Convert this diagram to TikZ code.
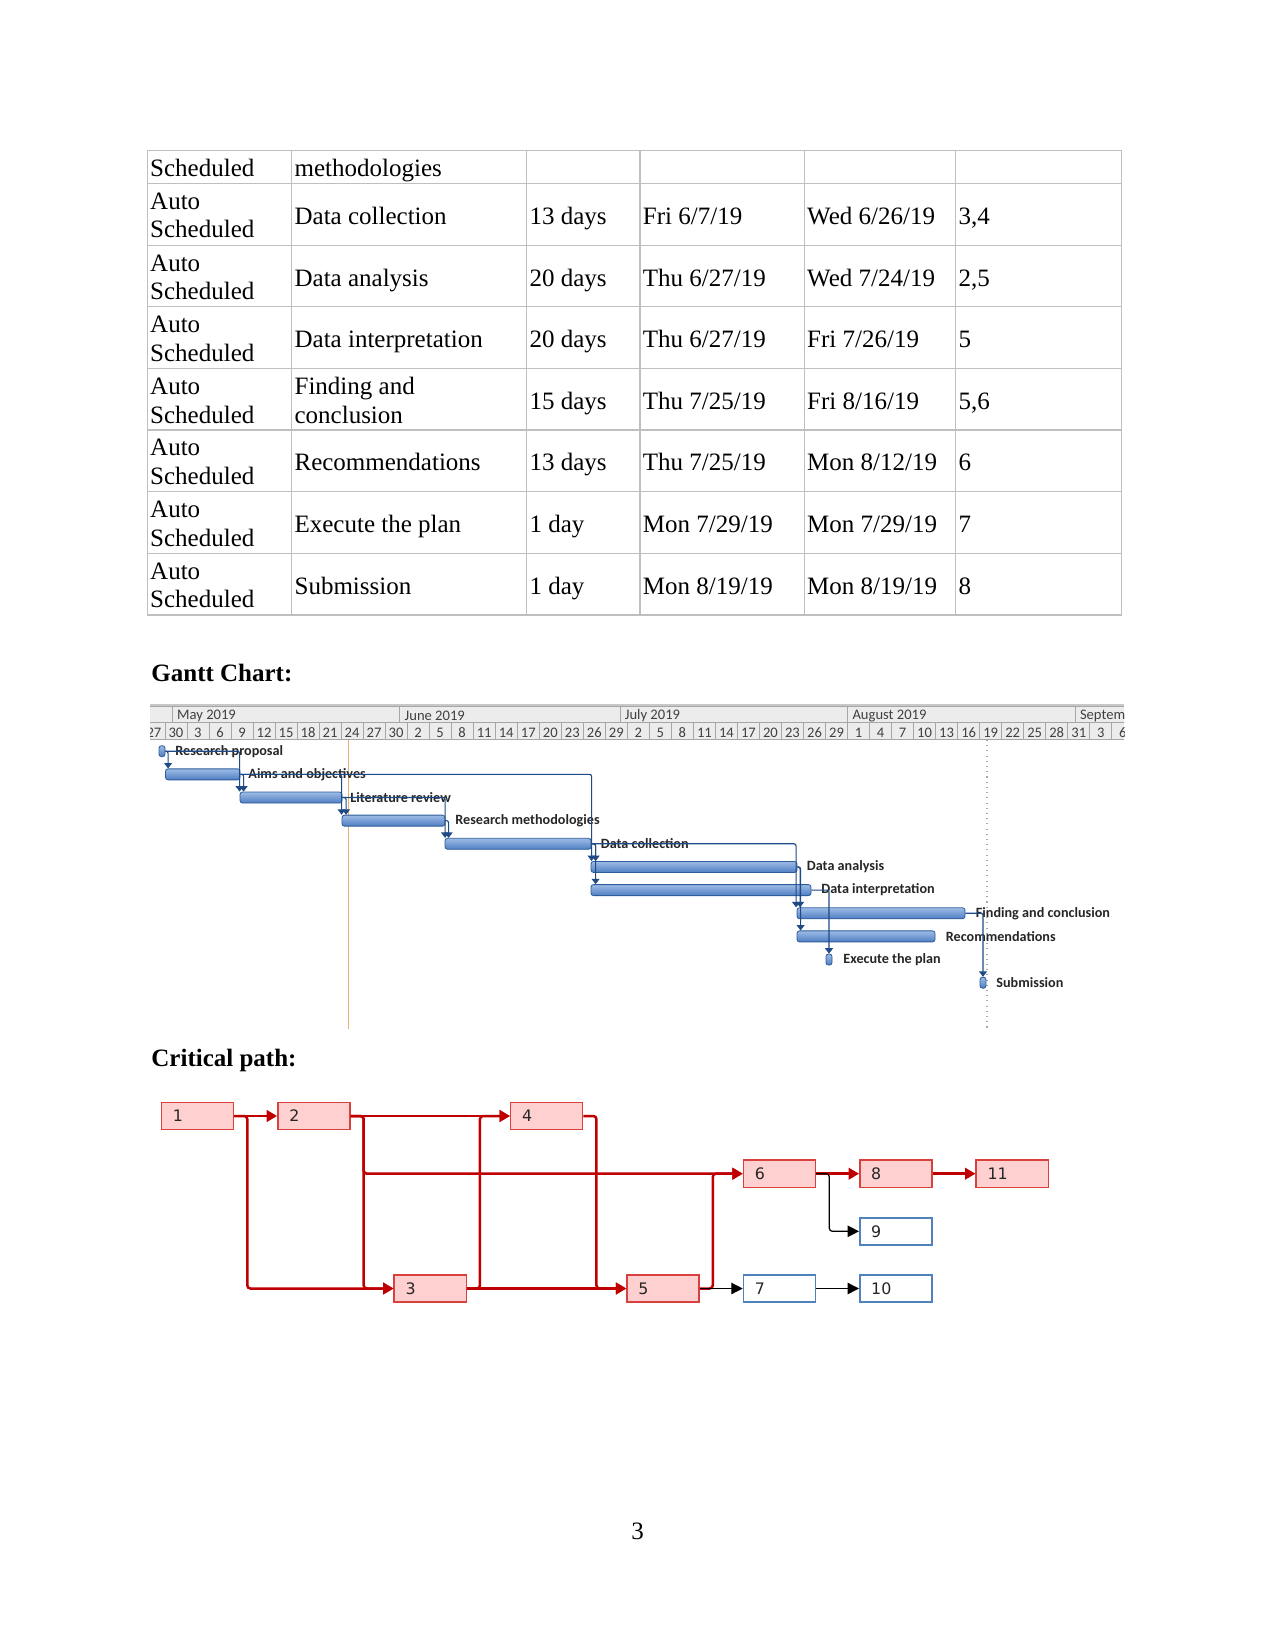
\documentclass[tikz,border=0pt]{standalone}
\usepackage{fontspec}
\setmainfont{Liberation Serif}
\newfontfamily\ganttfont{Carlito}
\newfontfamily\netfont{DejaVu Sans}
\usepackage{xcolor}
\usetikzlibrary{arrows.meta, positioning, fit, calc}
\definecolor{gridgray}{HTML}{BFBFBF}
\definecolor{hdrfill}{HTML}{ECECEC}
\definecolor{hdrline}{HTML}{A6A6A6}
\definecolor{hdrtop}{HTML}{C8C8C8}
\definecolor{hdrtext}{HTML}{404040}
\definecolor{barlt}{HTML}{9DBCE6}
\definecolor{bardk}{HTML}{4F7EC2}
\definecolor{barbd}{HTML}{2F5C9A}
\definecolor{linkblue}{HTML}{1F4A85}
\definecolor{todayor}{HTML}{E8B070}
\definecolor{critred}{HTML}{C00000}
\definecolor{critfill}{HTML}{FFD0D0}
\definecolor{critbd}{HTML}{D9403E}
\definecolor{normbd}{HTML}{4F81BD}
\definecolor{nettext}{HTML}{262626}
\tikzset{
  tabline/.style={draw=gridgray, line width=0.5pt},
  cell/.style={anchor=base west, inner sep=0pt, font=\fontsize{12}{14}\selectfont},
  heading/.style={cell, font=\fontsize{12}{14}\selectfont\bfseries},
  hdrcell/.style={draw=hdrline, fill=hdrfill, line width=0.4pt},
  hdrtxt/.style={inner sep=0pt, font=\ganttfont\fontsize{7}{8}\selectfont, text=hdrtext},
  gbar/.style={inner sep=0pt, draw=barbd, line width=0.4pt, top color=barlt, bottom color=bardk, rounded corners=1.2pt},
  glabel/.style={anchor=west, inner sep=0pt, font=\ganttfont\bfseries\fontsize{6.8}{8}\selectfont, text=black!85},
  glink/.style={draw=linkblue, line width=0.55pt, rounded corners=1pt, -{Triangle[length=2.6pt,width=3.8pt]}},
  crit/.style={draw=critbd, fill=critfill, line width=0.7pt, minimum width=34.6pt, minimum height=13pt,
    text width=23.6pt, inner xsep=5.5pt, inner ysep=0pt, align=left, font=\netfont\fontsize{7.6}{8}\selectfont, text=nettext},
  norm/.style={crit, draw=normbd, fill=white},
  critflow/.style={draw=critred, line width=1.2pt, rounded corners=1.5pt, -{Triangle[length=5pt,width=5.5pt]}},
  normflow/.style={draw=black, line width=0.6pt, rounded corners=1.5pt, -{Triangle[length=5.5pt,width=5.5pt]}}
}
\begin{document}
\begin{tikzpicture}[x=0.48pt, y=-0.48pt]
\useasboundingbox[fill=white] (0,0) rectangle (1275,1650);
% task table
\foreach \yy in {150.7,183.3,245.3,306.7,368.7,430,491.7,553.3,615}
  \draw[tabline] (147.3,\yy) -- (1121.7,\yy);
\foreach \xx in {147.3,291.7,526.7,640,804.3,955.7,1121.7}
  \draw[tabline] (\xx,150.7) -- (\xx,615);
\node[cell] (sched0) at (149.8,177) {Scheduled};
\node[cell] (task0) at (294.2,177) {methodologies};
\foreach \i/\top/\dur/\st/\fn/\pr in {1/183.3/13 days/{Fri 6/7/19}/{Wed 6/26/19}/{3,4},
    2/245.3/20 days/{Thu 6/27/19}/{Wed 7/24/19}/{2,5}, 3/306.7/20 days/{Thu 6/27/19}/{Fri 7/26/19}/5,
    4/368.7/15 days/{Thu 7/25/19}/{Fri 8/16/19}/{5,6}, 5/430/13 days/{Thu 7/25/19}/{Mon 8/12/19}/6,
    6/491.7/1 day/{Mon 7/29/19}/{Mon 7/29/19}/7, 7/553.3/1 day/{Mon 8/19/19}/{Mon 8/19/19}/8} {
  \node[cell] (auto\i) at (149.8,\top+26) {Auto};
  \node[cell] (sched\i) at (149.8,\top+54.6) {Scheduled};
  \node[cell] (dur\i) at (529.2,\top+40.8) {\dur};
  \node[cell] (start\i) at (642.5,\top+40.8) {\st};
  \node[cell] (fin\i) at (806.8,\top+40.8) {\fn};
  \node[cell] (pred\i) at (958.2,\top+40.8) {\pr};
}
\node[cell] (task1) at (294.2,224.1) {Data collection};
\node[cell] (task2) at (294.2,286.1) {Data analysis};
\node[cell] (task3) at (294.2,347.5) {Data interpretation};
\node[cell] (task4a) at (294.2,394.7) {Finding and};
\node[cell] (task4b) at (294.2,423.3) {conclusion};
\node[cell] (task5) at (294.2,470.8) {Recommendations};
\node[cell] (task6) at (294.2,532.5) {Execute the plan};
\node[cell] (task7) at (294.2,594.1) {Submission};

% gantt chart
\node[heading] (gtitle) at (151,681.7) {Gantt Chart:};
\begin{scope}
  \clip (150,703.5) rectangle (1124,739.5);
  \fill[hdrtop] (150,703.5) rectangle (1124,706.5);
  \draw[hdrcell] (100,706.5) rectangle (1200,722.5);
  \fill[hdrfill] (150,722.5) rectangle (1124,739.5);
  \foreach \mx/\mname/\mtxt in {172.3/may/May 2019, 399.8/jun/June 2019, 620/jul/July 2019,
      847.6/aug/August 2019, 1075.1/sep/September 2019} {
    \draw[hdrline, line width=0.4pt] (\mx,706.5) -- (\mx,722.5);
    \node[hdrtxt, anchor=west] (m\mname) at (\mx+4.5,716) {\mtxt};
  }
  \foreach \lab [count=\k from 0] in {27,30,3,6,9,12,15,18,21,24,27,30,2,5,8,11,14,17,20,23,26,29,
      2,5,8,11,14,17,20,23,26,29,1,4,7,10,13,16,19,22,25,28,31,3,6} {
    \draw[hdrline, line width=0.4pt] ({142.9+22.02*\k},722.5) -- ++(0,17);
    \node[hdrtxt] (day\k) at ({153.9+22.02*\k},732.6) {\lab};
  }
  \draw[hdrline, line width=0.4pt] (150,739.2) -- (1124,739.2);
\end{scope}
\draw[todayor, line width=0.5pt] (348.3,740) -- (348.3,1029);
\draw[gray!70, dotted, line width=0.5pt] (987,740) -- (987,1029);
\foreach \n/\xa/\xb/\ry in {1/159/165/751.2, 2/165.5/240/774.35, 3/240/342/797.5, 4/342/445/820.65,
    5/445/591/843.8, 6/591/797/866.95, 7/591/811/890.1, 8/797/965/913.25, 9/797/935/936.4,
    10/826/832/959.55, 11/980/986/982.7}
  \node[gbar, fit={(\xa,\ry-5.5) (\xb,\ry+5.5)}] (g\n) {};
\foreach \n/\lx/\ry/\txt in {1/175/751.2/Research proposal, 2/248/774.35/Aims and objectives,
    3/350/797.5/Literature review, 4/455/820.65/Research methodologies, 5/600.5/843.8/Data collection,
    6/806.5/866.95/Data analysis, 7/821/890.1/Data interpretation, 8/975.5/913.25/Finding and conclusion,
    9/945.5/936.4/Recommendations, 10/843/959.55/Execute the plan, 11/996/982.7/Submission}
  \node[glabel] (l\n) at (\lx,\ry) {\txt};
\draw[glink] (g1.east) -| ($(g2.north west)+(3,0)$);
\draw[glink] (g1.east) -| (g3.north west);
\draw[glink] (g2.east) -| ($(g3.north west)+(4,0)$);
\draw[glink] (g2.east) -| (g4.north west);
\draw[glink] (g2.east) -| ($(g6.north west)+(1,0)$);
\draw[glink] (g3.east) -| ($(g4.north west)+(4.5,0)$);
\draw[glink] (g3.east) -| ($(g5.north west)+(0.5,0)$);
\draw[glink] (g4.east) -| ($(g5.north west)+(4,0)$);
\draw[glink] (g5.east) -| ($(g6.north west)+(5,0)$);
\draw[glink] (g5.east) -| ($(g7.north west)+(5,0)$);
\draw[glink] (g5.east) -| ($(g8.north west)+(-0.5,0)$);
\draw[glink] (g6.east) -| ($(g8.north west)+(3.5,0)$);
\draw[glink] (g6.east) -| ($(g9.north west)+(4,0)$);
\draw[glink] (g7.east) -| (g10.north);
\draw[glink] (g8.east) -| (g11.north);

% critical path network
\node[heading] (ctitle) at (151,1066.7) {Critical path:};
\node[crit] (n1) at (197.5,1116) {1};
\node[crit] (n2) at (313.9,1116) {2};
\node[crit] (n4) at (546.7,1116) {4};
\node[crit] (n3) at (430.2,1288.5) {3};
\node[crit] (n5) at (663,1288.5) {5};
\node[crit] (n6) at (779.5,1173.7) {6};
\node[crit] (n8) at (895.8,1173.7) {8};
\node[crit] (n11) at (1012.2,1173.7) {11};
\node[norm] (n9) at (895.8,1231.3) {9};
\node[norm] (n7) at (779.5,1288.5) {7};
\node[norm] (n10) at (895.8,1288.5) {10};
\draw[critflow] (n1) -- (n2);
\draw[critflow] (n1.east) -- ++(13,0) |- (n3.west);
\draw[critflow] (n2) -- (n4);
\draw[critflow] (n2.east) -- ++(13,0) |- (n3.west);
\draw[critflow] (n2.east) -- ++(13,0) |- (n6.west);
\draw[critflow] (n3.east) -- ++(13,0) |- (n4.west);
\draw[critflow] (n3) -- (n5);
\draw[critflow] (n4.east) -- ++(13,0) |- (n5.west);
\draw[critflow] (n5.east) -- ++(13,0) |- (n6.west);
\draw[critflow] (n6) -- (n8);
\draw[critflow] (n8) -- (n11);
\draw[normflow] (n5) -- (n7);
\draw[normflow] (n6.east) -- ++(13,0) |- (n9.west);
\draw[normflow] (n7) -- (n10);

\node[cell, anchor=base] (pageno) at (637.5,1539) {3};
\end{tikzpicture}
\end{document}
